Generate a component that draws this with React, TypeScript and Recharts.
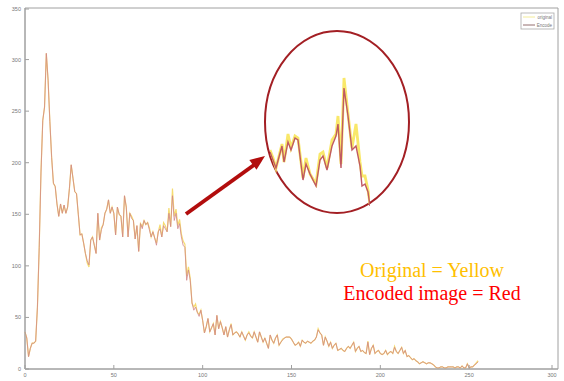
import { Line, LineChart, ReferenceArea, XAxis, YAxis } from "recharts";

// histogram bins 0..255, counts
const encoded = [
  36, 30, 12, 20, 25, 25, 27, 60, 118, 190, 241, 254, 306, 280, 240, 205,
  180, 177, 160, 148, 160, 151, 159, 151, 157, 175, 198, 185, 172, 170, 150, 130,
  131, 122, 112, 105, 101, 125, 128, 120, 112, 151, 125, 135, 140, 151, 155, 164,
  151, 157, 151, 130, 157, 150, 148, 128, 168, 157, 128, 151, 146, 144, 126, 139,
  114, 141, 136, 144, 140, 142, 135, 128, 133, 127, 120, 133, 136, 128, 139, 136,
  133, 151, 138, 168, 144, 151, 136, 141, 128, 120, 118, 86, 96, 86, 64, 57,
  60, 55, 51, 57, 47, 35, 41, 49, 36, 40, 44, 33, 52, 39, 46, 40,
  33, 41, 31, 38, 43, 33, 35, 36, 34, 31, 36, 32, 28, 33, 35, 32,
  30, 36, 31, 26, 36, 31, 26, 30, 25, 20, 33, 28, 25, 30, 33, 23,
  26, 28, 30, 31, 31, 31, 29, 26, 23, 24, 26, 22, 28, 26, 25, 27,
  26, 25, 27, 28, 31, 38, 35, 33, 23, 31, 27, 22, 26, 20, 23, 25,
  18, 19, 20, 18, 17, 20, 22, 20, 23, 26, 17, 20, 22, 17, 18, 16,
  15, 26, 14, 20, 23, 15, 17, 18, 15, 14, 15, 18, 14, 16, 17, 15,
  21, 17, 15, 18, 21, 15, 18, 12, 13, 11, 9, 10, 8, 7, 5, 6,
  7, 6, 5, 6, 6, 5, 4, 2, 1, 1, 2, 2, 1, 1, 2, 2,
  2, 2, 1, 2, 2, 1, 3, 1, 1, 5, 1, 2, 2, 4, 5, 7,
];

const original = [
  36, 30, 12, 20, 25, 25, 27, 60, 118, 192, 241, 254, 306, 280, 240, 205,
  180, 177, 160, 148, 160, 151, 159, 151, 157, 175, 198, 185, 172, 170, 150, 130,
  131, 122, 112, 103, 99, 125, 128, 120, 112, 151, 125, 137, 140, 151, 155, 164,
  151, 157, 151, 130, 157, 150, 148, 128, 168, 157, 128, 151, 148, 144, 126, 139,
  114, 141, 138, 144, 140, 142, 137, 128, 133, 127, 122, 133, 140, 128, 142, 139,
  133, 156, 138, 175, 148, 155, 139, 145, 131, 124, 121, 90, 99, 88, 64, 60,
  63, 55, 53, 57, 47, 35, 41, 49, 36, 40, 44, 33, 52, 39, 46, 40,
  33, 41, 31, 38, 44, 33, 35, 36, 34, 31, 36, 32, 28, 33, 36, 32,
  30, 36, 31, 26, 36, 31, 26, 30, 25, 20, 33, 28, 25, 30, 33, 23,
  26, 29, 30, 31, 31, 31, 29, 26, 23, 24, 26, 22, 28, 26, 25, 27,
  26, 25, 27, 28, 31, 39, 35, 33, 23, 31, 27, 22, 26, 20, 23, 25,
  18, 19, 20, 18, 17, 20, 22, 20, 23, 26, 17, 20, 22, 17, 18, 16,
  15, 27, 14, 20, 23, 15, 17, 18, 15, 14, 15, 18, 14, 16, 17, 15,
  22, 17, 15, 18, 21, 15, 18, 12, 13, 11, 9, 10, 8, 7, 5, 6,
  7, 6, 5, 6, 6, 5, 4, 2, 1, 1, 2, 2, 1, 1, 2, 2,
  2, 2, 1, 2, 2, 1, 3, 1, 1, 5, 1, 2, 2, 4, 6, 8,
];

const xTicks = [0, 50, 100, 150, 200, 250, 300];
const yTicks = [0, 50, 100, 150, 200, 250, 300, 350];

// zoomed-in view shown inside the circle
const insetX = [0, 3, 6, 12, 14, 18, 21, 25, 28, 33, 36, 40, 46, 50, 53, 57, 62, 66, 68, 71, 74, 78, 82, 86, 90, 92, 95, 98, 100];
const insetEncoded = [139, 135, 131, 142, 134, 144, 140, 146, 145, 125, 133, 128, 122, 135, 137, 130, 142, 147, 153, 131, 171, 157, 140, 142, 132, 122, 123, 119, 112];
const insetOriginal = [140, 136, 131, 143, 134, 148, 141, 147, 146, 126, 136, 128, 123, 138, 139, 131, 145, 148, 157, 133, 176, 158, 141, 153, 134, 127, 127, 120, 113];

const data = encoded.map((v, i) => ({ bin: i, original: original[i], encoded: v }));
const insetData = insetX.map((x, i) => ({ x, original: insetOriginal[i], encoded: insetEncoded[i] }));

const YELLOW = "#f6dc70";
const RED = "#d0868c";
const FRAME = "#a0a0a0";
const tickFont = { fontSize: 5.5, fill: "#777", fontFamily: "Liberation Sans, Arial, sans-serif" };

// tickSize/tickMargin are 0, so x/y below sit right on the axis line
const BottomTick = ({ x, y, payload }: any) => (
  <g>
    <line x1={x} x2={x} y1={y} y2={y - 4} stroke={FRAME} />
    <text x={x} y={y + 8} textAnchor="middle" {...tickFont}>{payload.value}</text>
  </g>
);
const TopTick = ({ x, y }: any) => <line x1={x} x2={x} y1={y} y2={y + 4} stroke={FRAME} />;
const LeftTick = ({ x, y, payload }: any) => (
  <g>
    <line x1={x} x2={x + 4} y1={y} y2={y} stroke={FRAME} />
    <text x={x - 4} y={y + 2} textAnchor="end" {...tickFont}>{payload.value}</text>
  </g>
);
const RightTick = ({ x, y }: any) => <line x1={x} x2={x - 4} y1={y} y2={y} stroke={FRAME} />;

export default function App() {
  return (
    <div style={{ position: "absolute", left: 0, top: 0, width: 564, height: 381, background: "#fff" }}>
      <LineChart width={564} height={381} data={data} margin={{ top: 8, right: 6, bottom: 0, left: 0 }}>
        <XAxis
          dataKey="bin"
          type="number"
          domain={[0, 300]}
          ticks={xTicks}
          height={12}
          axisLine={{ stroke: FRAME }}
          tickLine={false}
          tickSize={0}
          tickMargin={0}
          tick={<BottomTick />}
        />
        <XAxis
          xAxisId="top"
          orientation="top"
          dataKey="bin"
          type="number"
          domain={[0, 300]}
          ticks={xTicks}
          height={0}
          axisLine={false}
          tickLine={false}
          tickSize={0}
          tickMargin={0}
          tick={<TopTick />}
        />
        <YAxis
          type="number"
          domain={[0, 350]}
          ticks={yTicks}
          width={25}
          axisLine={{ stroke: FRAME }}
          tickLine={false}
          tickSize={0}
          tickMargin={0}
          tick={<LeftTick />}
        />
        <YAxis
          yAxisId="right"
          orientation="right"
          type="number"
          domain={[0, 350]}
          ticks={yTicks}
          width={0}
          axisLine={false}
          tickLine={false}
          tickSize={0}
          tickMargin={0}
          tick={<RightTick />}
        />
        <ReferenceArea x1={0} x2={300} y1={0} y2={350} fill="none" stroke={FRAME} strokeWidth={1} />
        <Line dataKey="original" stroke={YELLOW} strokeWidth={1.2} dot={false} isAnimationActive={false} />
        <Line dataKey="encoded" stroke={RED} strokeWidth={0.8} dot={false} isAnimationActive={false} />
      </LineChart>

      <svg width={564} height={381} style={{ position: "absolute", left: 0, top: 0, pointerEvents: "none" }}>
        {/* legend box, top right */}
        <rect x={521} y={13} width={33} height={16} fill="#fff" stroke="#aaa" strokeWidth={0.8} />
        <line x1={523} x2={535} y1={17} y2={17} stroke="#f3ec9a" strokeWidth={1} />
        <text x={552} y={18.5} textAnchor="end" {...tickFont} fontSize={4.5}>original</text>
        <line x1={523} x2={535} y1={25} y2={25} stroke="#7a4a4a" strokeWidth={0.8} />
        <text x={552} y={26.5} textAnchor="end" {...tickFont} fontSize={4.5}>Encode</text>

        <ellipse cx={337} cy={122} rx={72} ry={91} fill="none" stroke="#a31f24" strokeWidth={2} />
        <line x1={186} y1={214} x2={254} y2={165} stroke="#b20d0d" strokeWidth={4} />
        <polygon points="265,156 256.5,169.7 249.3,160.1" fill="#b20d0d" />

        <text x={432} y={277} textAnchor="middle" fontFamily="Liberation Serif, Times New Roman, serif" fontSize={20} fill="#ffc000">
          Original = Yellow
        </text>
        <text x={432} y={300} textAnchor="middle" fontFamily="Liberation Serif, Times New Roman, serif" fontSize={20} fill="#ff0000">
          Encoded image = Red
        </text>
      </svg>

      <div style={{ position: "absolute", left: 270, top: 70, width: 100, height: 140 }}>
        <LineChart width={100} height={140} data={insetData} margin={{ top: 0, right: 0, bottom: 0, left: 0 }}>
          <XAxis dataKey="x" type="number" domain={[0, 100]} hide />
          <YAxis type="number" domain={[110, 180]} hide />
          <Line dataKey="original" stroke="#f9e86a" strokeWidth={2.8} dot={false} isAnimationActive={false} />
          <Line dataKey="encoded" stroke="#c05a62" strokeWidth={1.4} dot={false} isAnimationActive={false} />
        </LineChart>
      </div>
    </div>
  );
}
